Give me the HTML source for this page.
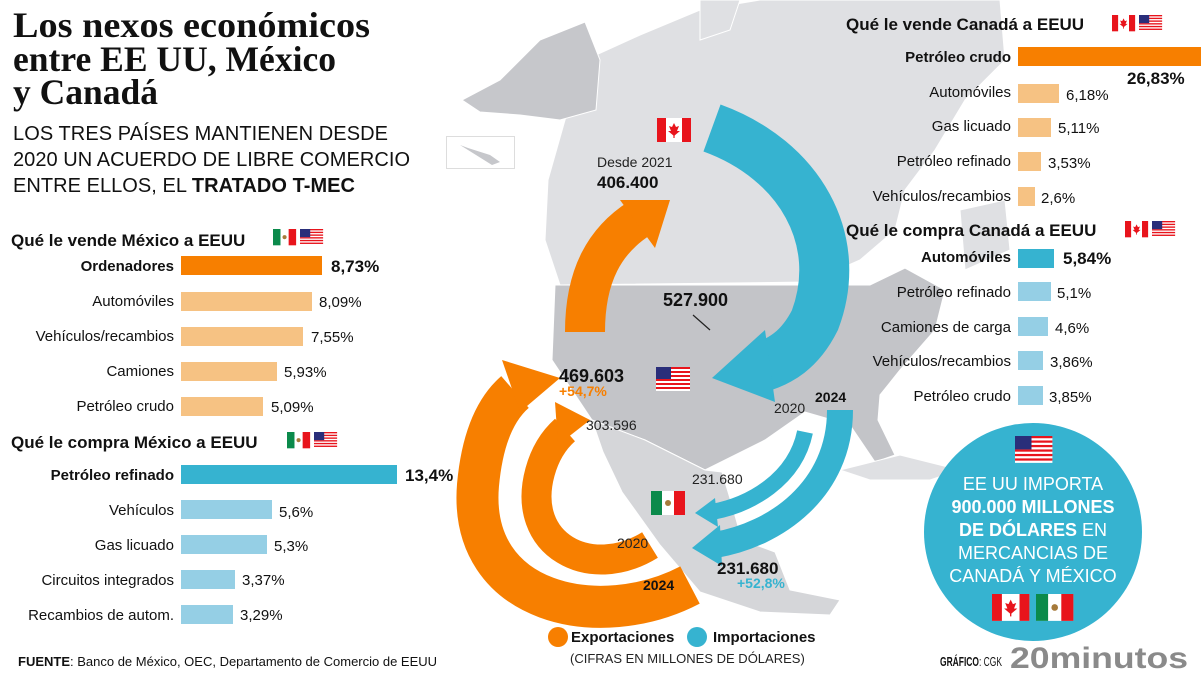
<!DOCTYPE html>
<html><head><meta charset="utf-8"><style>
html,body{margin:0;padding:0;background:#fff}
svg{display:block}
text{font-family:"Liberation Sans",Arial,sans-serif}
</style></head><body>
<svg width="1201" height="676" viewBox="0 0 1201 676" xmlns="http://www.w3.org/2000/svg">
<defs>
<g id="fca"><rect width="34" height="24" fill="#fff"/><rect width="9" height="24" fill="#e8141c"/><rect x="25" width="9" height="24" fill="#e8141c"/><path d="M17 5 L19 9 L22 8 L20 13 L23 13 L17 18 L11 13 L14 13 L12 8 L15 9 Z" fill="#e8141c"/><rect x="16.4" y="16" width="1.2" height="4" fill="#e8141c"/></g>
<g id="fmx"><rect width="34" height="24" fill="#fff"/><rect width="11" height="24" fill="#0b8a4b"/><rect x="23" width="11" height="24" fill="#e8141c"/><circle cx="17" cy="12" r="3" fill="#a67a3a"/></g>
<g id="fus"><rect width="34" height="24" fill="#fff"/><rect y="0" width="34" height="2" fill="#e8141c"/><rect y="4" width="34" height="2" fill="#e8141c"/><rect y="8" width="34" height="2" fill="#e8141c"/><rect y="12" width="34" height="2" fill="#e8141c"/><rect y="16" width="34" height="2" fill="#e8141c"/><rect y="20" width="34" height="2" fill="#e8141c"/><rect width="15" height="12" fill="#2a2e7a"/></g>
</defs>

<!-- map -->
<g stroke="#fff" stroke-width="1">
<path d="M585 60 L640 35 L700 10 L760 0 L1000 0 L1005 60 L965 100 L935 150 L905 190 L895 230 L860 260 L810 282 L560 285 L545 240 L548 180 L565 120 Z" fill="#dfe0e3"/>
<path d="M700 0 L740 0 L730 30 L700 40 Z M960 210 L1005 200 L1010 250 L965 270 Z" fill="#dfe0e3"/>
<path d="M462 100 L500 80 L540 40 L585 22 L600 60 L596 110 L560 120 L520 115 L480 112 Z" fill="#c6c7cb"/>
<path d="M555 285 L870 285 L905 268 L945 290 L935 330 L900 370 L880 395 L878 420 L895 455 L875 462 L850 425 L805 412 L765 440 L705 470 L645 440 L592 420 L552 360 Z" fill="#c3c4c8"/>
<path d="M592 420 L645 440 L705 470 L722 472 L732 505 L742 540 L775 552 L790 590 L840 600 L830 615 L760 612 L700 592 L660 545 L622 492 L603 452 Z" fill="#d5d6d9"/>
<path d="M840 470 L900 455 L960 470 L930 480 L870 480 Z" fill="#dfe0e3"/>
</g>
<rect x="446.5" y="136.5" width="68" height="32" fill="none" stroke="#ddd"/>
<path d="M460 145 L468 148 L490 155 L500 162 L492 165 Z" fill="#c6c7cb"/>

<!-- orange arrows -->
<g fill="none" stroke="#f77f00">
<path d="M690 585 C600 632 468 605 478 485 C483 430 500 405 515 392" stroke-width="42"/>
<path d="M650 545 C590 582 520 545 540 472 C546 450 556 438 565 430" stroke-width="30"/>
<path d="M585 332 C585 275 605 240 640 218" stroke-width="40"/>
</g>
<g fill="#f77f00">
<polygon points="502,360 560,378 520,412"/>
<polygon points="555,402 590,420 558,445"/>
<polygon points="620,200 670,200 655,248"/>
</g>
<!-- teal arrows -->
<g fill="none" stroke="#36b3d0">
<path d="M712 128 C800 160 845 240 815 320 C800 350 780 362 758 368" stroke-width="50"/>
<path d="M805 432 C795 480 750 505 712 512" stroke-width="16"/>
<path d="M840 410 C840 490 775 535 715 545" stroke-width="26"/>
</g>
<g fill="#36b3d0">
<polygon points="765,330 712,378 775,402"/>
<polygon points="715,498 695,513 718,527"/>
<polygon points="720,525 692,548 722,566"/>
</g>
<line x1="693" y1="315" x2="710" y2="330" stroke="#222" stroke-width="1.2"/>

<!-- map labels -->
<use href="#fca" x="657" y="118"/>
<use href="#fus" x="656" y="367"/>
<use href="#fmx" x="651" y="491"/>
<text x="597" y="167" font-size="14" fill="#222">Desde 2021</text>
<text x="597" y="188" font-size="17" font-weight="bold" fill="#111">406.400</text>
<text x="663" y="306" font-size="18" font-weight="bold" fill="#111">527.900</text>
<text x="559" y="382" font-size="18" font-weight="bold" fill="#111">469.603</text>
<text x="559" y="396" font-size="14" font-weight="bold" fill="#f77f00">+54,7%</text>
<text x="586" y="430" font-size="14" fill="#222">303.596</text>
<text x="774" y="413" font-size="14" fill="#222">2020</text>
<text x="815" y="402" font-size="14" font-weight="bold" fill="#111">2024</text>
<text x="692" y="484" font-size="14" fill="#222">231.680</text>
<text x="617" y="548" font-size="14" fill="#222">2020</text>
<text x="643" y="590" font-size="14" font-weight="bold" fill="#111">2024</text>
<text x="717" y="574" font-size="17" font-weight="bold" fill="#111">231.680</text>
<text x="737" y="588" font-size="14" font-weight="bold" fill="#36b3d0">+52,8%</text>

<!-- legend -->
<circle cx="558" cy="637" r="10" fill="#f77f00"/>
<text x="571" y="642" font-size="15" font-weight="bold" fill="#111">Exportaciones</text>
<circle cx="697" cy="637" r="10" fill="#36b3d0"/>
<text x="713" y="642" font-size="15" font-weight="bold" fill="#111">Importaciones</text>
<text x="570" y="663" font-size="13" fill="#222">(CIFRAS EN MILLONES DE DÓLARES)</text>

<!-- title -->
<g font-weight="bold" font-size="36" fill="#111">
<text x="13" y="37" style="font-family:'Liberation Serif',serif" textLength="357" lengthAdjust="spacingAndGlyphs">Los nexos económicos</text>
<text x="13" y="71" style="font-family:'Liberation Serif',serif" textLength="323" lengthAdjust="spacingAndGlyphs">entre EE UU, México</text>
<text x="13" y="104" style="font-family:'Liberation Serif',serif" textLength="145" lengthAdjust="spacingAndGlyphs">y Canadá</text>
</g>
<g font-size="20" fill="#111">
<text x="13" y="140" textLength="375">LOS TRES PAÍSES MANTIENEN DESDE</text>
<text x="13" y="166" textLength="397">2020 UN ACUERDO DE LIBRE COMERCIO</text>
<text x="13" y="192" textLength="342">ENTRE ELLOS, EL <tspan font-weight="bold">TRATADO T-MEC</tspan></text>
</g>

<!-- left: vende México -->
<text x="11" y="246" font-size="17" font-weight="bold" fill="#111">Qué le vende México a EEUU</text>
<use href="#fmx" transform="translate(273,229) scale(0.68)"/>
<use href="#fus" transform="translate(300,229) scale(0.68)"/>
<g font-size="15" fill="#111" text-anchor="end">
<text x="174" y="271" font-weight="bold">Ordenadores</text>
<text x="174" y="306">Automóviles</text>
<text x="174" y="341">Vehículos/recambios</text>
<text x="174" y="376">Camiones</text>
<text x="174" y="411">Petróleo crudo</text>
</g>
<rect x="181" y="256" width="141" height="19" fill="#f77f00"/>
<rect x="181" y="292" width="131" height="19" fill="#f6c283"/>
<rect x="181" y="327" width="122" height="19" fill="#f6c283"/>
<rect x="181" y="362" width="96" height="19" fill="#f6c283"/>
<rect x="181" y="397" width="82" height="19" fill="#f6c283"/>
<g font-size="15" fill="#111">
<text x="331" y="272" font-size="17" font-weight="bold">8,73%</text>
<text x="319" y="307">8,09%</text>
<text x="311" y="342">7,55%</text>
<text x="284" y="377">5,93%</text>
<text x="271" y="412">5,09%</text>
</g>

<!-- left: compra México -->
<text x="11" y="448" font-size="17" font-weight="bold" fill="#111">Qué le compra México a EEUU</text>
<use href="#fmx" transform="translate(287,432) scale(0.68)"/>
<use href="#fus" transform="translate(314,432) scale(0.68)"/>
<g font-size="15" fill="#111" text-anchor="end">
<text x="174" y="480" font-weight="bold">Petróleo refinado</text>
<text x="174" y="515">Vehículos</text>
<text x="174" y="550">Gas licuado</text>
<text x="174" y="585">Circuitos integrados</text>
<text x="174" y="620">Recambios de autom.</text>
</g>
<rect x="181" y="465" width="216" height="19" fill="#36b3d0"/>
<rect x="181" y="500" width="91" height="19" fill="#95cfe5"/>
<rect x="181" y="535" width="86" height="19" fill="#95cfe5"/>
<rect x="181" y="570" width="54" height="19" fill="#95cfe5"/>
<rect x="181" y="605" width="52" height="19" fill="#95cfe5"/>
<g font-size="15" fill="#111">
<text x="405" y="481" font-size="17" font-weight="bold">13,4%</text>
<text x="279" y="517">5,6%</text>
<text x="274" y="551">5,3%</text>
<text x="242" y="585">3,37%</text>
<text x="240" y="620">3,29%</text>
</g>

<!-- right: vende Canadá -->
<text x="846" y="30" font-size="17" font-weight="bold" fill="#111">Qué le vende Canadá a EEUU</text>
<use href="#fca" transform="translate(1112,15) scale(0.68)"/>
<use href="#fus" transform="translate(1139,15) scale(0.68)"/>
<g font-size="15" fill="#111" text-anchor="end">
<text x="1011" y="62" font-weight="bold">Petróleo crudo</text>
<text x="1011" y="97">Automóviles</text>
<text x="1011" y="131">Gas licuado</text>
<text x="1011" y="166">Petróleo refinado</text>
<text x="1011" y="201">Vehículos/recambios</text>
</g>
<rect x="1018" y="47" width="183" height="19" fill="#f77f00"/>
<rect x="1018" y="84" width="41" height="19" fill="#f6c283"/>
<rect x="1018" y="118" width="33" height="19" fill="#f6c283"/>
<rect x="1018" y="152" width="23" height="19" fill="#f6c283"/>
<rect x="1018" y="187" width="17" height="19" fill="#f6c283"/>
<g font-size="15" fill="#111">
<text x="1127" y="84" font-size="17" font-weight="bold">26,83%</text>
<text x="1066" y="100">6,18%</text>
<text x="1058" y="133">5,11%</text>
<text x="1048" y="168">3,53%</text>
<text x="1041" y="203">2,6%</text>
</g>

<!-- right: compra Canadá -->
<text x="846" y="236" font-size="17" font-weight="bold" fill="#111">Qué le compra Canadá a EEUU</text>
<use href="#fca" transform="translate(1125,221) scale(0.68)"/>
<use href="#fus" transform="translate(1152,221) scale(0.68)"/>
<g font-size="15" fill="#111" text-anchor="end">
<text x="1011" y="262" font-weight="bold">Automóviles</text>
<text x="1011" y="297">Petróleo refinado</text>
<text x="1011" y="332">Camiones de carga</text>
<text x="1011" y="366">Vehículos/recambios</text>
<text x="1011" y="401">Petróleo crudo</text>
</g>
<rect x="1018" y="249" width="36" height="19" fill="#36b3d0"/>
<rect x="1018" y="282" width="33" height="19" fill="#95cfe5"/>
<rect x="1018" y="317" width="30" height="19" fill="#95cfe5"/>
<rect x="1018" y="351" width="25" height="19" fill="#95cfe5"/>
<rect x="1018" y="386" width="25" height="19" fill="#95cfe5"/>
<g font-size="15" fill="#111">
<text x="1063" y="264" font-size="17" font-weight="bold">5,84%</text>
<text x="1057" y="298">5,1%</text>
<text x="1055" y="333">4,6%</text>
<text x="1050" y="367">3,86%</text>
<text x="1049" y="402">3,85%</text>
</g>

<!-- circle -->
<circle cx="1033" cy="532" r="109" fill="#36b3d0"/>
<use href="#fus" transform="translate(1015,436) scale(1.1,1.12)"/>
<g font-size="18" fill="#fff" text-anchor="middle">
<text x="1033" y="490">EE UU IMPORTA</text>
<text x="1033" y="513" font-weight="bold">900.000 MILLONES</text>
<text x="1033" y="536"><tspan font-weight="bold">DE DÓLARES</tspan> EN</text>
<text x="1033" y="559">MERCANCIAS DE</text>
<text x="1033" y="582">CANADÁ Y MÉXICO</text>
</g>
<use href="#fca" transform="translate(992,594) scale(1.1,1.12)"/>
<use href="#fmx" transform="translate(1036,594) scale(1.1,1.12)"/>

<!-- footer -->
<text x="18" y="666" font-size="13" fill="#111"><tspan font-weight="bold">FUENTE</tspan>: Banco de México, OEC, Departamento de Comercio de EEUU</text>
<text x="940" y="666" font-size="13" fill="#111" textLength="62" lengthAdjust="spacingAndGlyphs"><tspan font-weight="bold">GRÁFICO</tspan>: CGK</text>
<text x="1010" y="668" font-size="30" font-weight="bold" fill="#8a8a8a" textLength="178" lengthAdjust="spacingAndGlyphs">20minutos</text>
</svg>
</body></html>
